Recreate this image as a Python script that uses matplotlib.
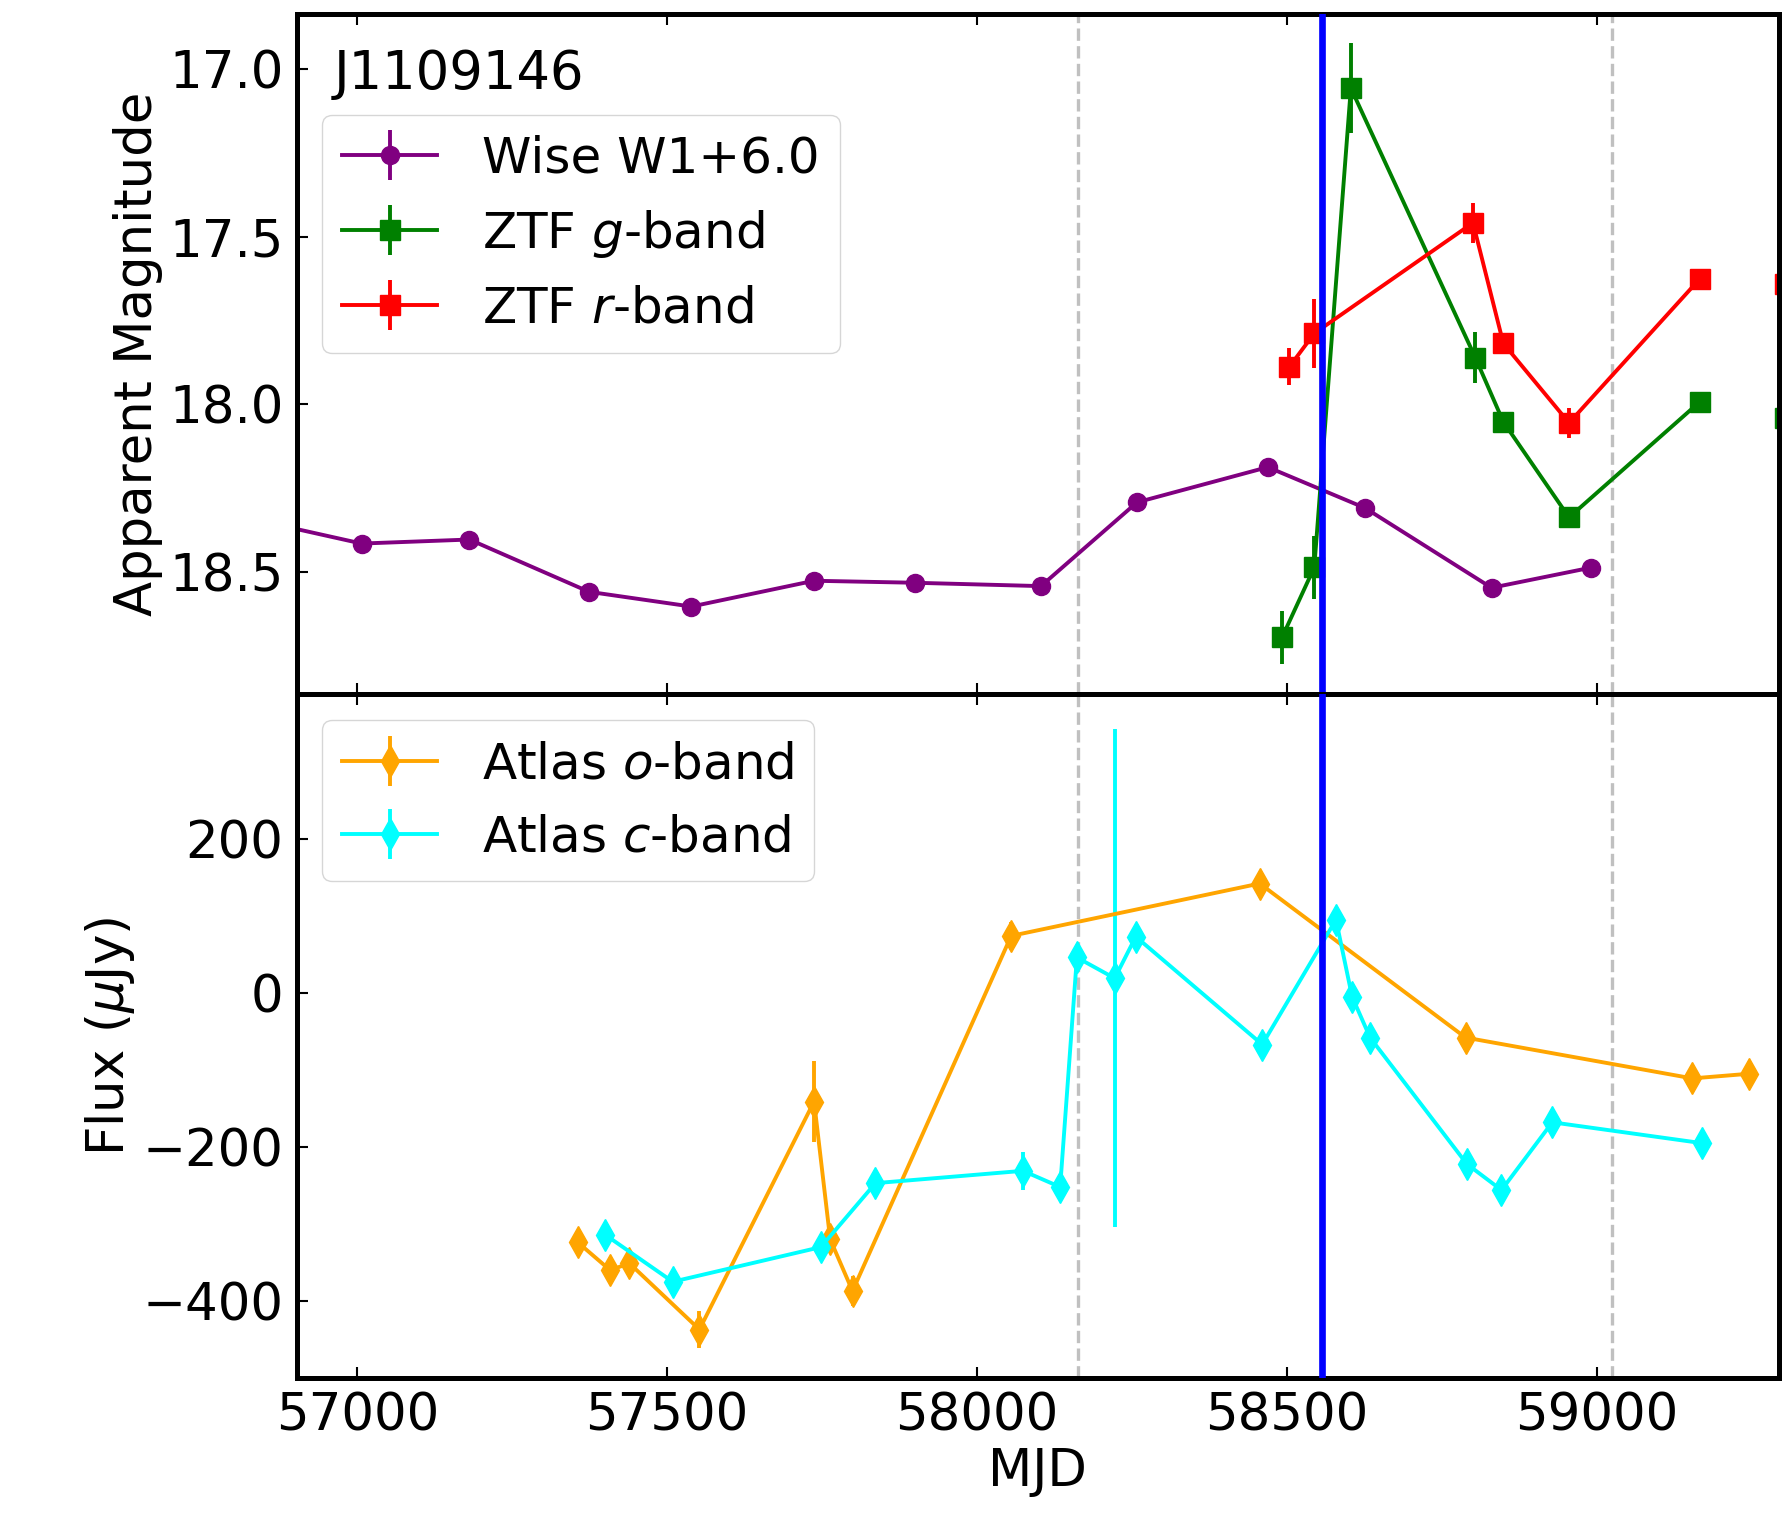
import numpy as np
import matplotlib.pyplot as plt

# WISE W1 (+6.0 offset already applied)
wise_mjd = [56830, 57007, 57181, 57374, 57539, 57737, 57900, 58103, 58258, 58469, 58626, 58830, 58990]
wise_mag = [18.343, 18.416, 18.404, 18.560, 18.604, 18.527, 18.533, 18.543, 18.293, 18.188, 18.310, 18.548, 18.488]
wise_err = [0.02, 0.02, 0.02, 0.02, 0.02, 0.02, 0.02, 0.02, 0.02, 0.02, 0.02, 0.02, 0.02]

# ZTF g
ztfg_mjd = [58492, 58544, 58603, 58804, 58849, 58955, 59166]
ztfg_mag = [18.696, 18.487, 17.057, 17.862, 18.053, 18.338, 17.993]
ztfg_err = [0.080, 0.094, 0.135, 0.076, 0.02, 0.02, 0.02]

# ZTF r
ztfr_mjd = [58504, 58544, 58800, 58849, 58955, 59166]
ztfr_mag = [17.888, 17.789, 17.459, 17.819, 18.056, 17.626]
ztfr_err = [0.055, 0.104, 0.060, 0.02, 0.045, 0.02]

# points just past the right edge (only partly visible)
edge_mjd = [59303]
edge_g = [18.041]
edge_r = [17.642]

# ATLAS o
atlo_mjd = [57356, 57408, 57439, 57552, 57737, 57763, 57799, 58055, 58456, 58788, 59154, 59245]
atlo_flux = [-324, -360, -351, -437, -141, -320, -387, 74, 142, -58, -111, -105]
atlo_err = [15, 12, 12, 24, 53, 12, 19, 18, 12, 10, 10, 10]

# ATLAS c
atlc_mjd = [57400, 57509, 57748, 57836, 58074, 58134, 58161, 58222, 58256, 58460, 58579, 58605, 58634, 58790, 58846, 58928, 59169]
atlc_flux = [-314, -375, -330, -247, -231, -252, 46, 19, 73, -67, 95, -5, -58, -222, -256, -168, -195]
atlc_err = [12, 12, 12, 12, 25, 12, 12, 323, 12, 12, 12, 12, 12, 12, 12, 12, 10]

peak_mjd = 58557
window = [58162, 59024]
name = 'J1109146'

plt.rcParams['font.size'] = 37
plt.rcParams['axes.linewidth'] = 3.6

fig = plt.figure(figsize=(17.9, 15.2), dpi=100)
ax1 = fig.add_axes([0.166, 0.5434, 0.8276, 0.4476])
ax2 = fig.add_axes([0.166, 0.0934, 0.8276, 0.45], sharex=ax1)

lw = 2.8
ax1.errorbar(wise_mjd, wise_mag, yerr=wise_err, fmt='o-', color='purple', ms=13, lw=lw, elinewidth=lw, label='Wise W1+6.0')
ax1.errorbar(ztfg_mjd, ztfg_mag, yerr=ztfg_err, fmt='s-', color='green', ms=14, lw=lw, elinewidth=lw, label='ZTF $g$-band')
ax1.errorbar(ztfr_mjd, ztfr_mag, yerr=ztfr_err, fmt='s-', color='red', ms=14, lw=lw, elinewidth=lw, label='ZTF $r$-band')
ax1.plot(edge_mjd, edge_g, 's', color='green', ms=14)
ax1.plot(edge_mjd, edge_r, 's', color='red', ms=14)

ax2.errorbar(atlo_mjd, atlo_flux, yerr=atlo_err, fmt='d-', color='orange', ms=16, lw=lw, elinewidth=lw, label='Atlas $o$-band')
ax2.errorbar(atlc_mjd, atlc_flux, yerr=atlc_err, fmt='d-', color='cyan', ms=16, lw=lw, elinewidth=lw, label='Atlas $c$-band')

for ax in (ax1, ax2):
    ax.axvline(peak_mjd, color='blue', lw=4.8, zorder=5)
    for w in window:
        ax.axvline(w, color='silver', ls='--', lw=2.4, zorder=0)
    ax.tick_params(direction='in', top=True, right=False, length=8, width=1.5, pad=10)

ax1.set_xlim(56903, 59293)
ax1.set_ylim(18.865, 16.835)
ax1.set_yticks([17.0, 17.5, 18.0, 18.5])
ax1.tick_params(labelbottom=False)
ax1.set_ylabel('Apparent Magnitude')
ax1.text(0.025, 0.89, name, transform=ax1.transAxes, fontsize=38)
ax1.legend(loc='upper left', bbox_to_anchor=(0.0, 0.888), fontsize=36, handlelength=1.9, handletextpad=0.9)

ax2.set_ylim(-500, 388)
ax2.set_yticks([-400, -200, 0, 200])
ax2.set_xticks([57000, 57500, 58000, 58500, 59000])
ax2.set_ylabel('Flux ($\\mu$Jy)')
ax2.set_xlabel('MJD')
ax2.legend(loc='upper left', bbox_to_anchor=(0.0, 0.998), fontsize=36, handlelength=1.9, handletextpad=0.9)

fig.savefig('out.png', dpi=100)
